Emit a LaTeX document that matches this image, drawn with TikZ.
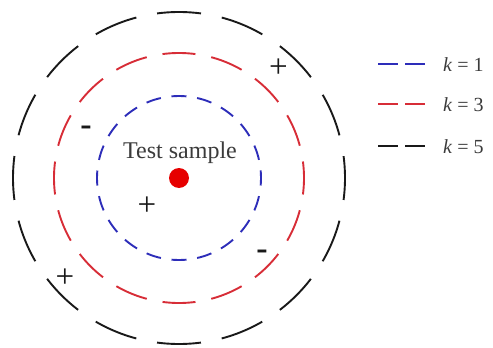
\documentclass[tikz,border=0pt]{standalone}
\usepackage{fontspec}
\setmainfont{Liberation Serif}
\definecolor{cblue}{RGB}{45,45,185}
\definecolor{cred}{RGB}{215,45,55}
\definecolor{cblack}{RGB}{25,25,25}
\definecolor{cdot}{RGB}{230,0,0}
\tikzset{
  ring/.style={line width=1.9pt},
  bluering/.style={ring, draw=cblue, dash pattern=on 15pt off 10.76pt, dash phase=7.5pt},
  redring/.style={ring, draw=cred, dash pattern=on 33pt off 16.09pt, dash phase=16.5pt},
  blackring/.style={ring, draw=cblack, dash pattern=on 44pt off 21.2pt, dash phase=22pt},
  legline/.style={line width=1.9pt, dash pattern=on 20pt off 7pt},
  sign/.style={font=\fontsize{33}{33}\selectfont, text=cblack, inner sep=0pt},
  minus/.style={font=\fontsize{34}{34}\selectfont\bfseries, text=cblack, inner sep=0pt, anchor=base},
  legtext/.style={anchor=base west, font=\fontsize{20}{20}\selectfont, text=cblack!85, inner sep=0pt}
}
\begin{document}
\begin{tikzpicture}[x=1pt,y=-1pt]
\useasboundingbox (0,0) rectangle (493,348);
\coordinate (c) at (179,178);
\draw[blackring] (c) circle[radius=166];
\draw[redring] (c) circle[radius=125];
\draw[bluering] (c) circle[radius=82];
\node[circle, fill=cdot, minimum size=20pt, inner sep=0pt] (dot) at (c) {};
\node[font=\fontsize{24}{24}\selectfont, text=cblack!85, inner sep=0pt] (ts) at (180,153) {Test sample};
\node[sign] (p1) at (278.5,68.5) {+};
\node[sign] (p2) at (147,206) {+};
\node[sign] (p3) at (65,278) {+};
\node[minus] (m1) at (86,135.7) {-};
\node[minus] (m2) at (262,259.7) {-};
% legend
\coordinate (l1a) at (378,64); \coordinate (l1b) at (427,64);
\coordinate (l2a) at (378,104); \coordinate (l2b) at (427,104);
\coordinate (l3a) at (378,146); \coordinate (l3b) at (427,146);
\draw[legline, draw=cblue] (l1a) -- (l1b);
\draw[legline, draw=cred] (l2a) -- (l2b);
\draw[legline, draw=cblack] (l3a) -- (l3b);
\node[legtext] (t1) at (443,71) {\textit{k} = 1};
\node[legtext] (t2) at (443,111) {\textit{k} = 3};
\node[legtext] (t3) at (443,153) {\textit{k} = 5};
\end{tikzpicture}
\end{document}
